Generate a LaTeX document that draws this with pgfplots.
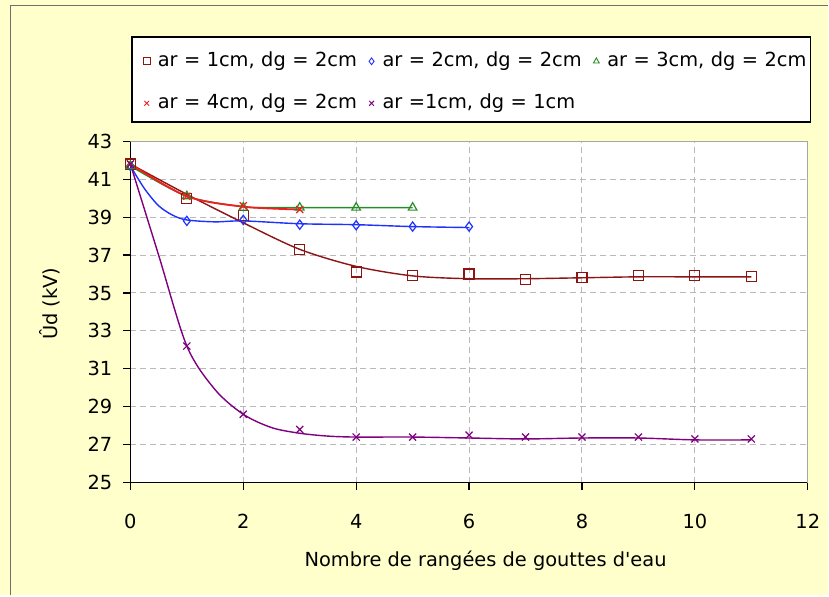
\documentclass[border=0pt]{standalone}
\usepackage{fontspec}
\setmainfont{DejaVu Sans}[Ligatures=TeXOff]
\usepackage{pgfplots}
\pgfplotsset{compat=1.18}
\definecolor{bgy}{RGB}{255,255,204}
\definecolor{framegray}{RGB}{110,110,110}
\definecolor{cbrown}{RGB}{140,20,20}
\definecolor{cblue}{RGB}{30,50,255}
\definecolor{cgreen}{RGB}{40,140,40}
\definecolor{cred}{RGB}{240,30,30}
\definecolor{cpurple}{RGB}{128,0,128}
\newcommand{\ff}{\fontsize{9.7}{11}\selectfont}
\begin{document}
\begin{tikzpicture}
\fill[bgy] (0,0) rectangle (414.5pt,298pt);
\draw[framegray, line width=0.75pt] (5.25pt,0) -- (5.25pt,295.15pt) -- (414.5pt,295.15pt);
\draw[black, line width=0.75pt, fill=white] (66pt,237pt) rectangle (405.5pt,279.5pt);
\begin{axis}[
 at={(65.25pt,56.5pt)}, anchor=south west,
 scale only axis, width=339pt, height=170.8pt,
 axis background/.style={fill=white},
 xmin=0, xmax=12, ymin=25, ymax=43,
 xtick={0,2,...,12}, ytick={25,27,...,43},
 axis x line*=bottom, axis y line*=left,
 axis line style={black, line width=0.75pt},
 tick align=outside, major tick length=3.5pt, tick style={black, line width=0.6pt},
 grid=major, major grid style={densely dashed, gray!55, line width=0.5pt},
 /pgf/number format/assume math mode=true,
 tick label style={font=\ff},
 yticklabel style={xshift=-2pt},
 xticklabel style={yshift=-8.8pt},
 xlabel={Nombre de rangées de gouttes d'eau},
 ylabel={Ûd (kV)},
 xlabel style={at={(axis description cs:0.5243,-0.2283)}, anchor=center, font=\ff},
 ylabel style={at={(axis description cs:-0.1187,0.524)}, anchor=center, font=\ff},
 legend columns=3,
 legend style={at={(axis description cs:0.01475,1.2617)}, anchor=north west, draw=none, fill=none, inner sep=0pt, font=\ff, row sep=12pt,
   nodes={text width=100pt, inner xsep=0pt, inner ysep=0pt, text height=7pt, text depth=2pt, align=left},
   /tikz/every odd column/.append style={column sep=2.5pt},
   /tikz/every even column/.append style={column sep=4pt}},
 legend image code/.code={\pgfpathrectangle{\pgfpoint{0pt}{-3pt}}{\pgfpoint{6pt}{6pt}}\pgfusepath{use as bounding box}\draw[#1, mark size=1.7pt, line width=0.45pt] plot[only marks] coordinates {(3pt,0pt)};},
]
% curves (trend lines)
\addplot[cbrown, line width=0.7pt, smooth, no marks, forget plot] coordinates {
 (0,41.8)(1,40.2)(2,38.7)(3,37.3)(4,36.4)(5,35.9)(6,35.75)(7,35.75)(8,35.8)(9,35.85)(10,35.85)(11,35.85)};
\addplot[cblue, line width=0.7pt, smooth, no marks, forget plot] coordinates {
 (0,41.7)(0.25,40.5)(0.5,39.6)(0.75,39.1)(1,38.85)(1.5,38.75)(2,38.8)(3,38.65)(4,38.6)(5,38.5)(6,38.45)};
\addplot[cgreen, line width=0.7pt, smooth, no marks, forget plot] coordinates {
 (0,41.7)(1,40.1)(2,39.55)(2.5,39.5)(3,39.5)(4,39.5)(5,39.5)};
\addplot[cred, line width=0.9pt, smooth, no marks, forget plot] coordinates {
 (0,41.8)(1,40.1)(2,39.55)(3,39.4)};
\addplot[cpurple, line width=0.7pt, smooth, no marks, forget plot] coordinates {
 (0,41.8)(0.5,37)(1,32.2)(1.5,29.9)(2,28.6)(2.5,27.9)(3,27.6)(3.5,27.45)(4,27.4)(5,27.4)(6,27.35)(7,27.3)(8,27.35)(9,27.35)(10,27.25)(11,27.25)};
% markers
\addplot[only marks, mark=square, mark size=2.5pt, cbrown, line width=0.6pt] coordinates {
 (0,41.8)(1,40.0)(2,39.1)(3,37.3)(4,36.1)(5,35.9)(6,36.0)(7,35.7)(8,35.8)(9,35.9)(10,35.9)(11,35.85)};
\addlegendentry{ar = 1cm, dg = 2cm}
\addplot[only marks, mark=diamond, mark size=2.3pt, cblue, line width=0.6pt] coordinates {
 (0,41.7)(1,38.8)(2,38.85)(3,38.6)(4,38.57)(5,38.5)(6,38.5)};
\addlegendentry{ar = 2cm, dg = 2cm}
\addplot[only marks, mark=triangle, mark size=2.5pt, cgreen, line width=0.6pt] coordinates {
 (0,41.7)(1,40.1)(2,39.5)(3,39.5)(4,39.5)(5,39.5)};
\addlegendentry{ar = 3cm, dg = 2cm}
\addplot[only marks, mark=x, mark size=2.5pt, cred, line width=0.6pt] coordinates {
 (0,41.8)(1,40.1)(2,39.6)(3,39.4)};
\addlegendentry{ar = 4cm, dg = 2cm}
\addplot[only marks, mark=x, mark size=2.5pt, cpurple, line width=0.6pt] coordinates {
 (0,41.8)(1,32.2)(2,28.6)(3,27.8)(4,27.4)(5,27.4)(6,27.5)(7,27.4)(8,27.4)(9,27.4)(10,27.3)(11,27.3)};
\addlegendentry{ar =1cm, dg = 1cm}
\draw[gray!70, line width=0.5pt] (rel axis cs:0,1) -- (rel axis cs:1,1) -- (rel axis cs:1,0);
\end{axis}
\end{tikzpicture}
\end{document}
